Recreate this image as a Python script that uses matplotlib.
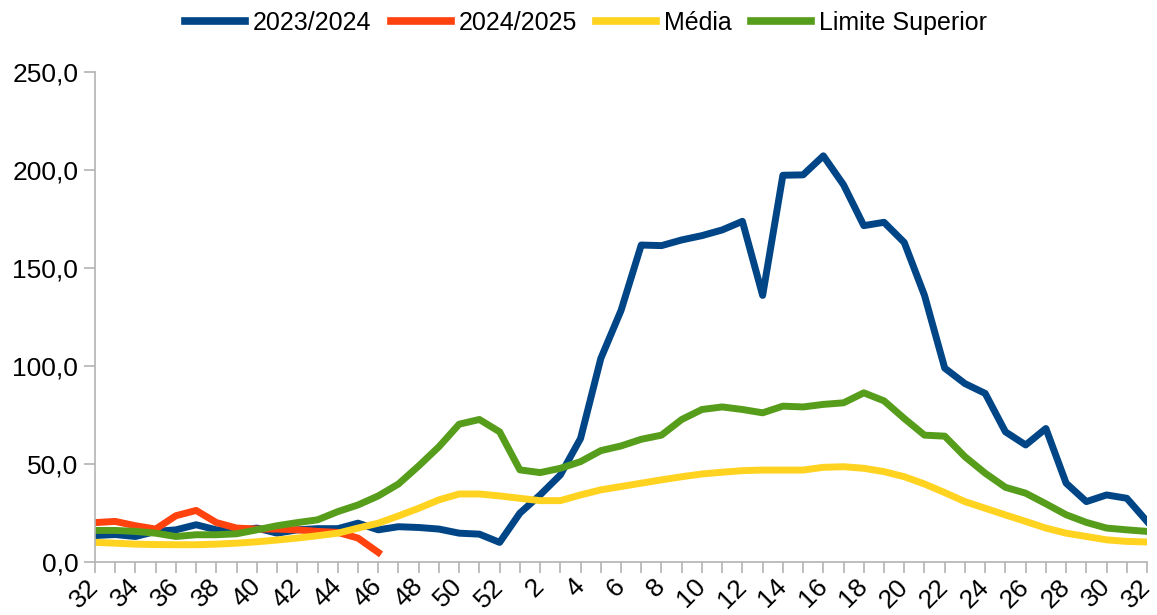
import matplotlib
matplotlib.use('Agg')
import matplotlib.pyplot as plt

plt.rcParams['font.family'] = ['Liberation Sans', 'DejaVu Sans']

# epidemiological weeks: 32..52 then 1..32
weeks = list(range(32, 53)) + list(range(1, 33))

s2023_2024 = [13.5, 14.0, 13.0, 15.6, 16.4, 19.0, 16.4, 16.0, 17.3, 14.7,
              16.4, 17.0, 17.0, 19.8, 16.4, 18.0, 17.6, 16.8, 14.7, 14.2,
              10.0, 24.9, 34.2, 44.4, 63.0, 103.8, 128.3, 161.7, 161.4, 164.3,
              166.5, 169.4, 173.8, 136.0, 197.3, 197.5, 207.2, 192.4, 171.6, 173.3,
              163.0, 136.0, 98.9, 91.0, 86.0, 66.4, 59.7, 68.1, 40.2, 30.8,
              34.2, 32.5, 20.7]

s2024_2025 = [20.1, 20.7, 18.5, 16.8, 23.6, 26.3, 20.1, 17.3, 16.8, 16.8,
              16.4, 15.6, 15.1, 12.2, 4.9]

media = [10.0, 9.6, 9.1, 8.9, 8.8, 8.8, 9.1, 9.6, 10.3, 11.2,
         12.2, 13.4, 14.7, 17.3, 19.8, 23.5, 27.4, 31.7, 34.7, 34.7,
         33.7, 32.5, 31.3, 31.3, 34.2, 36.8, 38.5, 40.2, 41.9, 43.5,
         44.9, 45.8, 46.6, 46.9, 46.9, 46.9, 48.3, 48.6, 47.8, 46.1,
         43.5, 39.8, 35.4, 30.8, 27.4, 24.0, 20.7, 17.3, 14.7, 13.0,
         11.3, 10.5, 10.2]

limite_superior = [16.1, 16.1, 15.6, 14.7, 13.0, 13.9, 13.9, 14.4, 16.4, 18.5,
                   20.1, 21.5, 25.7, 29.1, 33.7, 39.8, 49.0, 58.8, 70.3, 72.7,
                   66.4, 47.0, 45.6, 47.8, 51.2, 56.8, 59.2, 62.6, 64.7, 72.7,
                   77.8, 79.1, 77.8, 76.1, 79.5, 79.1, 80.4, 81.2, 86.3, 82.2,
                   73.2, 64.7, 64.2, 53.7, 45.3, 38.1, 35.1, 29.7, 24.1, 20.2,
                   17.3, 16.4, 15.6]

x = list(range(len(weeks)))

fig = plt.figure(figsize=(11.57, 6.15), dpi=100)
ax = fig.add_axes([0.0821, 0.0862, 0.9093, 0.7968])

lw = 5
ax.plot(x, s2023_2024, color='#004586', lw=lw, label='2023/2024', solid_joinstyle='round')
ax.plot(x[:len(s2024_2025)], s2024_2025, color='#ff420e', lw=lw, label='2024/2025', solid_joinstyle='round')
ax.plot(x, media, color='#ffd320', lw=lw, label='Média', solid_joinstyle='round')
ax.plot(x, limite_superior, color='#579d1c', lw=lw, label='Limite Superior', solid_joinstyle='round')

ax.set_xlim(0, len(weeks) - 1)
ax.set_ylim(0, 250)

ax.set_yticks(range(0, 251, 50))
ax.set_yticklabels([f'{v},0' for v in range(0, 251, 50)], fontsize=19)

ax.set_xticks(x)
ax.set_xticklabels([str(w) if i % 2 == 0 else '' for i, w in enumerate(weeks)],
                   fontsize=19, rotation=45, ha='right', va='center',
                   rotation_mode='anchor')

for side in ['top', 'right']:
    ax.spines[side].set_visible(False)
for side in ['left', 'bottom']:
    ax.spines[side].set_color('#b3b3b3')
    ax.spines[side].set_linewidth(1.2)
ax.tick_params(axis='both', color='#b3b3b3', length=8, width=1.2, pad=4)
ax.tick_params(axis='x', pad=7)

leg = ax.legend(loc='center', bbox_to_anchor=(0.5065, 0.9626), bbox_transform=fig.transFigure,
                ncol=4, frameon=False, fontsize=18, handlelength=2.4,
                handletextpad=0.32, columnspacing=0.76)
for line in leg.get_lines():
    line.set_linewidth(5.5)

fig.savefig('out.png', dpi=100)
